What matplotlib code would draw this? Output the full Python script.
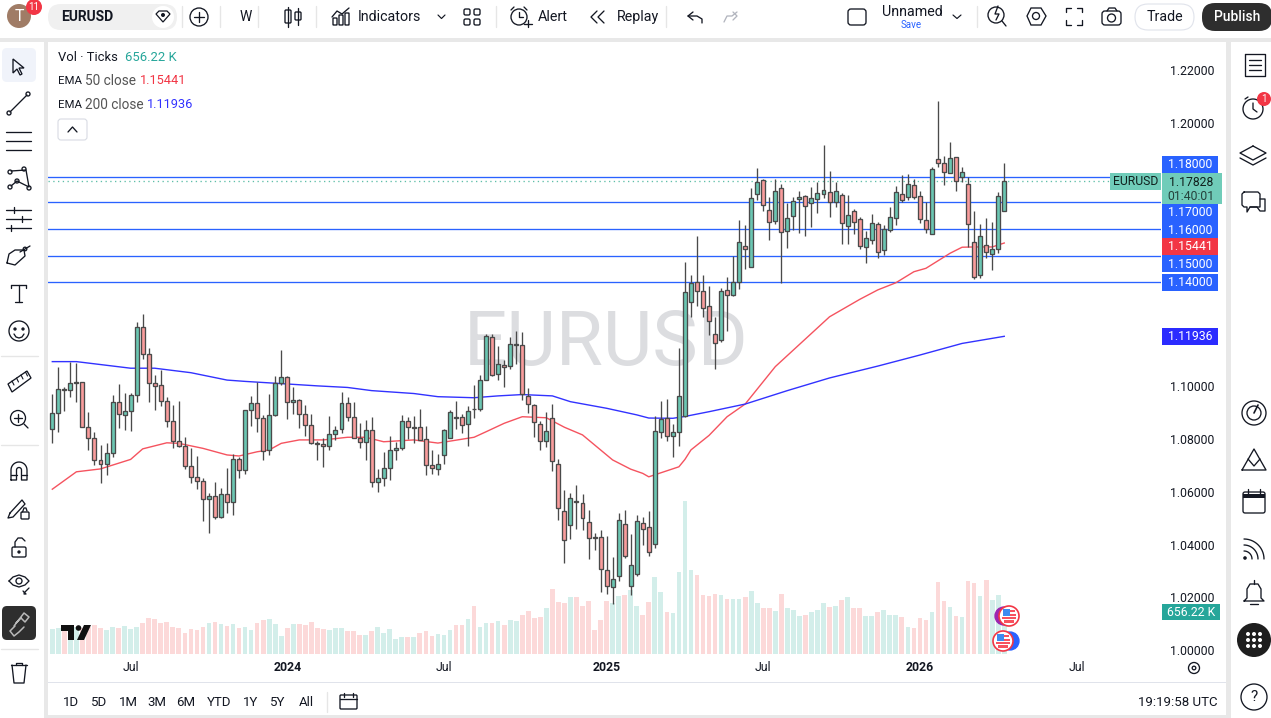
import math
import matplotlib
matplotlib.use("Agg")
import matplotlib.pyplot as plt
from matplotlib.patches import Rectangle, Circle, FancyBboxPatch, Polygon, Wedge

opens = [1.0837,1.0898,1.0989,1.0985,1.1014,1.1015,1.0845,1.0803,1.0720,1.0704,
1.0746,1.0940,1.0893,1.0905,1.0966,1.1224,1.1122,1.1012,1.1004,1.0943,
1.0867,1.0792,1.0773,1.0697,1.0655,1.0640,1.0572,1.0583,1.0503,1.0591,
1.0560,1.0723,1.0682,1.0909,1.0936,1.0879,1.0757,1.0890,1.1012,1.1034,
1.0940,1.0947,1.0894,1.0852,1.0785,1.0780,1.0773,1.0818,1.0837,1.0936,
1.0883,1.0803,1.0788,1.0833,1.0636,1.0651,1.0689,1.0757,1.0765,1.0867,
1.0844,1.0845,1.0799,1.0701,1.0685,1.0738,1.0803,1.0883,1.0883,1.0856,
1.0916,1.0913,1.1023,1.1186,1.1046,1.1080,1.1076,1.1158,1.1156,1.0962,
1.0928,1.0856,1.0792,1.0879,1.0704,1.0526,1.0473,1.0564,1.0556,1.0484,
1.0427,1.0427,1.0302,1.0238,1.0279,1.0477,1.0242,1.0287,1.0481,1.0465,
1.0401,1.0826,1.0879,1.0811,1.0826,1.0889,1.1319,1.1395,1.1361,1.1304,
1.1198,1.1175,1.1364,1.1345,1.1395,1.1531,1.1452,1.1729,1.1782,1.1668,
1.1626,1.1751,1.1588,1.1645,1.1710,1.1721,1.1694,1.1710,1.1729,1.1736,
1.1698,1.1725,1.1607,1.1664,1.1634,1.1527,1.1554,1.1615,1.1516,1.1592,
1.1638,1.1729,1.1717,1.1763,1.1721,1.1630,1.1577,1.1861,1.1846,1.1808,
1.1869,1.1793,1.1767,1.1546,1.1421,1.1535,1.1501,1.1520,1.1664]
closes = [1.0898,1.0989,1.0985,1.1012,1.1017,1.0845,1.0803,1.0720,1.0704,1.0746,
1.0940,1.0894,1.0905,1.0966,1.1224,1.1122,1.1012,1.1003,1.0943,1.0867,
1.0792,1.0773,1.0697,1.0655,1.0640,1.0572,1.0583,1.0503,1.0591,1.0560,
1.0723,1.0682,1.0909,1.0936,1.0879,1.0756,1.0890,1.1012,1.1034,1.0940,
1.0947,1.0894,1.0852,1.0784,1.0783,1.0773,1.0818,1.0836,1.0936,1.0883,
1.0803,1.0788,1.0833,1.0636,1.0651,1.0689,1.0757,1.0765,1.0867,1.0845,
1.0845,1.0798,1.0701,1.0689,1.0707,1.0833,1.0902,1.0881,1.0852,1.0905,
1.0913,1.1023,1.1190,1.1042,1.1084,1.1072,1.1160,1.1160,1.0970,1.0932,
1.0864,1.0792,1.0830,1.0716,1.0537,1.0416,1.0575,1.0563,1.0499,1.0424,
1.0425,1.0306,1.0242,1.0268,1.0492,1.0355,1.0321,1.0488,1.0458,1.0371,
1.0830,1.0875,1.0811,1.0826,1.0962,1.1357,1.1391,1.1361,1.1296,1.1247,
1.1163,1.1361,1.1345,1.1395,1.1546,1.1520,1.1713,1.1774,1.1687,1.1622,
1.1740,1.1584,1.1638,1.1702,1.1717,1.1683,1.1713,1.1732,1.1744,1.1698,
1.1740,1.1619,1.1649,1.1622,1.1531,1.1562,1.1619,1.1509,1.1596,1.1641,
1.1736,1.1706,1.1767,1.1717,1.1634,1.1596,1.1823,1.1846,1.1812,1.1865,
1.1778,1.1812,1.1615,1.1414,1.1569,1.1509,1.1520,1.1721,1.1778]
highs = [1.0971,1.1072,1.0996,1.1091,1.1087,1.1017,1.0903,1.0827,1.0778,1.0784,
1.0969,1.1009,1.0975,1.0974,1.1243,1.1275,1.1144,1.1043,1.1062,1.0961,
1.0928,1.0945,1.0807,1.0765,1.0736,1.0651,1.0597,1.0636,1.0613,1.0690,
1.0742,1.0733,1.0910,1.0964,1.1015,1.0891,1.0970,1.1039,1.1138,1.1039,
1.0998,1.0953,1.0928,1.0895,1.0793,1.0804,1.0886,1.0850,1.0977,1.0961,
1.0941,1.0860,1.0873,1.0883,1.0687,1.0750,1.0811,1.0789,1.0890,1.0883,
1.0888,1.0914,1.0848,1.0759,1.0742,1.0837,1.0909,1.0945,1.0895,1.0926,
1.1005,1.1042,1.1197,1.1197,1.1153,1.1100,1.1186,1.1210,1.1206,1.0993,
1.0933,1.0867,1.0902,1.0932,1.0723,1.0607,1.0594,1.0626,1.0591,1.0530,
1.0443,1.0454,1.0432,1.0352,1.0518,1.0531,1.0440,1.0512,1.0503,1.0527,
1.0888,1.0943,1.0951,1.0856,1.1144,1.1471,1.1421,1.1571,1.1421,1.1380,
1.1262,1.1372,1.1414,1.1495,1.1631,1.1611,1.1751,1.1827,1.1785,1.1718,
1.1785,1.1767,1.1694,1.1717,1.1740,1.1725,1.1755,1.1777,1.1914,1.1816,
1.1777,1.1732,1.1725,1.1672,1.1644,1.1588,1.1653,1.1622,1.1611,1.1679,
1.1759,1.1801,1.1804,1.1785,1.1740,1.1698,1.1831,1.2081,1.1873,1.1926,
1.1871,1.1831,1.1793,1.1664,1.1615,1.1638,1.1622,1.1736,1.1846]
lows = [1.0787,1.0828,1.0908,1.0961,1.0942,1.0845,1.0760,1.0701,1.0635,1.0664,
1.0733,1.0843,1.0836,1.0832,1.0942,1.1105,1.0942,1.0912,1.0927,1.0845,
1.0765,1.0771,1.0685,1.0632,1.0612,1.0488,1.0445,1.0496,1.0499,1.0521,
1.0513,1.0654,1.0666,1.0850,1.0827,1.0722,1.0740,1.0888,1.1005,1.0878,
1.0894,1.0843,1.0812,1.0780,1.0721,1.0695,1.0760,1.0795,1.0822,1.0870,
1.0803,1.0766,1.0721,1.0620,1.0599,1.0623,1.0645,1.0721,1.0759,1.0799,
1.0787,1.0797,1.0664,1.0668,1.0664,1.0706,1.0803,1.0837,1.0822,1.0775,
1.0881,1.0907,1.1023,1.1041,1.1024,1.0999,1.1066,1.1084,1.0948,1.0898,
1.0809,1.0759,1.0769,1.0680,1.0493,1.0331,1.0422,1.0460,1.0454,1.0344,
1.0379,1.0221,1.0211,1.0175,1.0263,1.0350,1.0209,1.0282,1.0398,1.0358,
1.0388,1.0805,1.0794,1.0733,1.0775,1.0885,1.1265,1.1306,1.1265,1.1196,
1.1065,1.1170,1.1209,1.1343,1.1371,1.1447,1.1452,1.1707,1.1664,1.1557,
1.1615,1.1391,1.1526,1.1592,1.1583,1.1572,1.1606,1.1659,1.1715,1.1644,
1.1682,1.1541,1.1541,1.1577,1.1522,1.1469,1.1541,1.1488,1.1500,1.1586,
1.1614,1.1700,1.1706,1.1712,1.1619,1.1583,1.1577,1.1834,1.1765,1.1808,
1.1743,1.1774,1.1527,1.1409,1.1412,1.1486,1.1443,1.1505,1.1664]
volumes_k = [390,406,427,427,416,401,417,453,406,375,422,406,437,390,422,484,562,547,484,500,
422,406,328,390,375,422,484,500,469,437,469,406,422,375,484,531,547,469,281,406,
469,469,453,500,406,390,375,406,406,359,359,297,297,359,422,328,390,234,266,266,
266,328,359,281,312,297,375,453,453,547,750,422,484,484,515,453,531,515,609,672,
562,578,719,1015,812,797,890,890,750,828,375,531,828,797,906,922,1000,750,609,812,
1203,968,656,640,1281,2390,1312,1234,922,906,937,922,859,859,859,890,984,797,719,719,
672,937,719,687,594,609,656,687,797,734,750,844,890,719,719,594,594,656,687,609,
609,578,422,406,562,531,656,1125,828,734,594,578,1140,1109,906,1156,844,922,656]

ema50_bar = [0,4,8,13,15,19,21,25,29,31,34,36,38,41,45,49,52,55,60,64,70,72,75,78,82,85,88,90,93,96,98,99,
             104,105,106,109,112,115,120,129,134,137,140,143,145,149,151,153,156,158]
ema50_val = [1.0610,1.0676,1.0687,1.0723,1.0763,1.0786,1.0784,1.0765,1.0740,1.0736,1.0752,1.0759,1.0784,1.0797,
             1.0797,1.0807,1.0807,1.0790,1.0797,1.0785,1.0807,1.0828,1.0860,1.0885,1.0881,1.0845,1.0816,1.0778,
             1.0721,1.0686,1.0670,1.0657,1.0695,1.0723,1.0759,1.0814,1.0885,1.0933,1.1075,1.1264,1.1330,1.1366,
             1.1393,1.1435,1.1448,1.1505,1.1528,1.1529,1.1529,1.1544]
ema200_bar = [0,4,13,17,23,29,32,37,44,49,53,60,64,70,74,78,83,86,92,97,99,103,105,109,115,122,129,137,144,151,158]
ema200_val = [1.1094,1.1094,1.1069,1.1069,1.1052,1.1024,1.1019,1.1012,1.1002,1.0996,1.0984,1.0973,1.0961,1.0957,
              1.0964,1.0969,1.0964,1.0942,1.0917,1.0892,1.0880,1.0879,1.0886,1.0904,1.0933,1.0984,1.1032,1.1077,
              1.1119,1.1163,1.1190]

level_vals = [1.1796,1.1699,1.1597,1.1496,1.1396]
level_labels = ['1.18000','1.17000','1.16000','1.15000','1.14000']
price_ticks = [1.00,1.02,1.04,1.06,1.08,1.10,1.20,1.22]
price_tick_labels = ['1.00000','1.02000','1.04000','1.06000','1.08000','1.10000','1.20000','1.22000']
time_ticks = [13,39,65,92,118,144,170]
time_labels = ['Jul','2024','Jul','2025','Jul','2026','Jul']

W, H = 1271, 718
FONT = 'Roboto'
plt.rcParams['font.family'] = [FONT, 'DejaVu Sans']
DARK = '#131722'
BLUE, RED, TEAL = '#2962ff', '#f23645', '#70ccb9'
fig = plt.figure(figsize=(W/100, H/100), dpi=100, facecolor='#e8e8e8')

def pos(x0, y0, x1, y1):
    return [x0/W, 1-y1/H, (x1-x0)/W, (y1-y0)/H]

rect = pos(48, 42, 1161, 682)
volax = fig.add_axes(rect, zorder=1, facecolor='white')
ax = fig.add_axes(rect, zorder=2)
ax.patch.set_visible(False)
xlim = ((48-52.3)/6.025, (1161-52.3)/6.025)
for a in (ax, volax):
    a.set_xlim(*xlim)
    for s in a.spines.values():
        s.set_visible(False)
ax.set_ylim(1+(650-682)/2636, 1+(650-42)/2636)
volax.set_ylim(-(682-654)*15.62, (654-42)*15.62)
volax.set_xticks([]); volax.set_yticks([])

idx = list(range(len(closes)))
ups = [c >= o for o, c in zip(opens, closes)]
volax.bar(idx, volumes_k, width=0.78, color=['#d3eeea' if u else '#fcd9d9' for u in ups], linewidth=0)
ax.text((606-48)/1113, 1-(345-42)/640, 'EURUSD', transform=ax.transAxes, ha='center', va='center',
        fontsize=55, color='#dcdde0', fontfamily='Roboto', zorder=0)
for v, x_end in zip(level_vals, [1110, 1161, 1161, 1161, 1161]):
    ax.plot([xlim[0], (x_end-52.3)/6.025], [v, v], color=BLUE, lw=0.95, zorder=1)
ax.plot(ema50_bar, ema50_val, color='#f5535f', lw=1.0, zorder=2)
ax.plot(ema200_bar, ema200_val, color='#3232ff', lw=1.0, zorder=2)
ax.plot([xlim[0], (1110-52.3)/6.025], [closes[-1]]*2, color='#5fbfa9', lw=0.95, ls=(0, (1, 2.6)), zorder=2)
ax.vlines(idx, lows, highs, color='#4a4a4a', lw=0.95, zorder=3)
ax.bar(idx, [c-o for o, c in zip(opens, closes)], bottom=opens, width=0.66,
       color=['#6bc6b2' if u else '#f99c9c' for u in ups], edgecolor='#4a4a4a', linewidth=0.95, zorder=4)
ax.yaxis.tick_right()
ax.set_yticks(price_ticks)
ax.set_yticklabels(price_tick_labels, fontsize=8.8, color=DARK)
ax.tick_params(axis='y', length=0, pad=6.5)
ax.set_xticks(time_ticks)
ax.set_xticklabels(time_labels, fontsize=8.8, color=DARK)
ax.tick_params(axis='x', length=0, direction='in', pad=-15.2)
for lab, t in zip(ax.get_xticklabels(), time_labels):
    if t != 'Jul':
        lab.set_fontweight('bold')

# interface overlay, in screen pixels
ui = fig.add_axes([0, 0, 1, 1], zorder=5)
ui.set_xlim(0, W); ui.set_ylim(H, 0); ui.axis('off')

def box(x0, y0, x1, y1, c='white', **k):
    ui.add_patch(Rectangle((x0, y0), x1-x0, y1-y0, fc=c, ec='none', **k))
def rbox(x0, y0, x1, y1, fc='white', ec='none', r=4, lw=0.8):
    ui.add_patch(FancyBboxPatch((x0+r, y0+r), x1-x0-2*r, y1-y0-2*r, boxstyle=f'round,pad={r},rounding_size={r}',
                                fc=fc, ec=ec, lw=lw, mutation_aspect=1))
def txt(x, y, s, size=10.3, c=DARK, ha='left', w='normal', **k):
    ui.text(x, y+0.8, s, fontsize=size, color=c, ha=ha, va='center', fontweight=w, fontfamily=FONT, **k)
def ln(xs, ys, c=DARK, lw=0.95, **k):
    ui.plot(xs, ys, color=c, lw=lw, solid_capstyle='round', solid_joinstyle='round', **k)
def circ(x, y, r, fc='none', ec=DARK, lw=0.95):
    ui.add_patch(Circle((x, y), r, fc=fc, ec=ec, lw=lw))
def sq(x0, y0, x1, y1, fc='none', ec=DARK, r=2):
    rbox(x0, y0, x1, y1, fc=fc, ec=ec, r=r, lw=0.95)
def arc_pts(cx, cy, r, a0, a1, n=14):
    return ([cx + r*math.cos(math.radians(a0+(a1-a0)*i/n)) for i in range(n+1)],
            [cy - r*math.sin(math.radians(a0+(a1-a0)*i/n)) for i in range(n+1)])

box(0, 0, W, 38)
box(0, 42, 44, 718)
box(1231, 42, W, 718)
box(48, 683, 1226, 715)
box(48, 682, 1226, 683, '#e0e3eb')
price_bg = fig.add_axes(pos(1161, 42, 1226, 682), zorder=0, facecolor='white')
price_bg.set_xticks([]); price_bg.set_yticks([])
for s in price_bg.spines.values():
    s.set_visible(False)

# top bar
circ(19, 16, 12, fc='#a07c66', ec='none')
txt(19, 16, 'T', 11.5, 'white', ha='center')
circ(34, 7, 8, fc=RED, ec='none')
txt(34, 6.5, '11', 7, 'white', ha='center')
rbox(48, 4, 177, 30, fc='#f0f0f0', r=13)
txt(61, 16, 'EURUSD', 10, DARK, w='bold')
circ(163, 17, 11, fc='white', ec='none')
ui.add_patch(Polygon([[156, 14], [159, 11], [167, 11], [170, 14], [163, 22]], fc='none', ec=DARK, lw=0.9))
circ(163, 15, 2, fc=DARK, ec='none')
circ(199, 17, 9)
ln([194, 204], [17, 17]); ln([199, 199], [12, 22])
for x in [182, 220, 258]:
    ln([x, x], [6, 27], '#e6e6e6')
txt(246, 16, 'W', 10, DARK, ha='center')
sq(285, 10, 291, 23, r=1); ln([288, 288], [7, 27])
sq(295, 12, 301, 20, r=1); ln([298, 298], [8, 25])
ln([316, 316], [6, 27], '#e6e6e6')
ln([332, 337, 342, 349], [17, 11, 14, 8]); sq(333, 18, 337, 25, r=0.5); sq(339, 15, 343, 25, r=0.5); sq(345, 13, 349, 25, r=0.5)
txt(358, 16, 'Indicators')
ln([438, 441.5, 445], [15, 18.5, 15], lw=0.85)
for xx, yy in [(465, 10), (475, 10), (465, 20), (475, 20)]:
    sq(xx-1, yy-1, xx+5, yy+5, r=1.5)
ln([496, 496], [6, 27], '#e6e6e6')
circ(519, 17, 8); ln([519, 519, 523], [12, 17, 17]); ln([511, 514], [10, 7]); ln([524, 527], [7, 10])
ln([528, 528], [20, 27]); ln([524, 532], [24, 24])
txt(538, 16, 'Alert')
for dx in (0, 7):
    ln([597+dx, 591+dx, 597+dx], [11, 17, 23])
txt(617, 16, 'Replay')
ln([666, 666], [6, 27], '#e6e6e6')
ln([693, 688, 693], [12, 16, 20]); ln([688, 697, 702, 702], [16, 16, 19, 23])
ln([737, 732, 727, 724], [12, 16, 16, 22], '#b2b5be'); ln([733, 737, 733], [12, 16, 20], '#b2b5be')
sq(848, 9, 866, 25, r=3)
txt(882, 11.5, 'Unnamed')
txt(911, 24, 'Save', 7, BLUE, ha='center')
ln([953, 957, 961], [15, 18.5, 15], lw=0.85)
ln([977, 977], [6, 27], '#e6e6e6')
circ(996, 15, 8); ln([1002, 1006], [21, 26]); ln([998, 995, 999, 996], [6, 14, 14, 20])
ui.add_patch(Polygon([[1027, 16], [1031, 8], [1041, 8], [1046, 16], [1041, 25], [1031, 25]], fc='none', ec=DARK, lw=0.95))
circ(1036, 16, 3.5)
for a_, b_ in [((1066, 1066, 1071), (12, 8, 8)), ((1077, 1082, 1082), (8, 8, 12)),
               ((1066, 1066, 1071), (20, 25, 25)), ((1077, 1082, 1082), (25, 25, 20))]:
    ln(a_, b_)
sq(1102, 11, 1121, 25, r=3); circ(1111.5, 18, 4); ln([1107, 1109, 1115, 1117], [11, 8, 8, 11])
rbox(1135, 4, 1194, 30, fc='white', ec='#e0e3eb', r=13)
txt(1165, 16, 'Trade', ha='center')
rbox(1202, 3, 1272, 31, fc='#2e2e2e', r=13)
txt(1237, 16, 'Publish', 10, 'white', ha='center', w='medium')

# legend
txt(58, 56.5, 'Vol · Ticks', 9.4)
txt(125, 56.5, '656.22 K', 9.4, '#26a69a')
txt(58, 80, 'EMA', 8.2); txt(85, 80, '50 close', 9.8, '#555555'); txt(140, 80, '1.15441', 9.2, RED)
txt(58, 104, 'EMA', 8.2); txt(85, 104, '200 close', 9.8, '#555555'); txt(147, 104, '1.11936', 9.2, '#3232ff')
rbox(58, 119, 87, 140, fc='white', ec='#d8dbe3', r=3)
ln([68, 72.5, 77], [132, 127, 132], lw=0.95)

# price boxes
for v_lab, y0, y1 in zip(level_labels, [156, 204, 221, 255, 274], [173, 221, 238, 272, 291]):
    box(1162, y0, 1218, y1, BLUE)
    txt(1190, (y0+y1)/2-0.3, v_lab, 8.8, 'white', ha='center')
box(1162, 238, 1218, 255, RED); txt(1190, 246.2, '1.15441', 8.8, 'white', ha='center')
box(1162, 328, 1218, 345, '#2b2bff'); txt(1190, 336.2, '1.11936', 8.8, 'white', ha='center')
box(1162, 173, 1222, 204, TEAL)
txt(1191, 181.5, '1.17828', 8.8, '#10201d', ha='center')
txt(1191, 195.5, '01:40:01', 8.8, '#25423c', ha='center')
box(1110, 173, 1161, 190, TEAL); txt(1135.5, 181, 'EURUSD', 8.8, '#10201d', ha='center')
box(1162, 604, 1220, 620, '#26a69a'); txt(1191, 611.5, '656.22 K', 8.8, 'white', ha='center')

# time axis and range bar
for x, s in zip([71, 99, 128, 157, 186, 219, 251, 278, 306], ['1D', '5D', '1M', '3M', '6M', 'YTD', '1Y', '5Y', 'All']):
    txt(x, 701.5, s, 9.5, ha='center')
ln([327, 327], [692, 712], '#e6e6e6')
sq(340, 695, 357, 709, r=1); ln([340, 357], [698.5, 698.5]); ln([344, 344], [693, 697]); ln([353, 353], [693, 697])
txt(1217, 701.5, '19:19:58 UTC', 9.5, ha='right')
circ(1194, 668, 5.5); circ(1194, 668, 1.8)

# TradingView mark
ui.add_patch(Polygon([[61, 625], [74, 625], [74, 640], [68, 640], [68, 631], [61, 631]], fc='#111111', ec='none'))
circ(78.5, 628, 2.8, fc='#111111', ec='none')
ui.add_patch(Polygon([[84, 625], [91, 625], [84, 640], [77, 640]], fc='#111111', ec='none'))

# event flags
for cx, cy, other, colr in [(1009, 616, -5, '#9c27b0'), (1003, 641, 7, '#2962ff')]:
    circ(cx+other, cy, 9, fc=colr, ec=colr)
    circ(cx, cy, 10, fc='white', ec='#f23645', lw=1.2)
    box(cx-7, cy+0.5, cx+7, cy+2.5, '#f7525f')
    box(cx-5, cy+4, cx+5, cy+6.5, '#f7525f')
    box(cx-6.5, cy-7, cx+1, cy, '#3d8bf0')
    box(cx+1, cy-6, cx+5.5, cy-4, '#f7525f')
    box(cx+1, cy-2.5, cx+7, cy-0.5, '#f7525f')

# left toolbar
rbox(2, 48, 36, 82, fc='#f0f3fa', r=5)
ui.add_patch(Polygon([[13, 59], [13, 73], [17, 69], [20, 75], [22, 74], [19, 68], [24, 68]], fc='none', ec=DARK, lw=0.95))
ln([10, 27], [112, 95]); circ(9, 113, 2, fc='white'); circ(28, 94, 2, fc='white')
for y in (132, 141, 150):
    ln([6, 31], [y, y])
ln([11, 26, 29, 17, 11], [171, 170, 187, 181, 186])
for xx, yy in [(10, 172), (17, 181), (24, 169), (29, 188), (10, 187)]:
    circ(xx, yy, 2, fc='white')
for y in (210, 219, 228):
    ln([6, 31], [y, y])
ln([14, 14], [207, 213]); ln([22, 22], [216, 222]); ln([11, 11], [225, 231])
ln([7, 9, 15, 24, 25, 15, 7], [263, 254, 250, 250, 256, 265, 263]); ln([20, 30], [252, 246]); circ(25, 249, 1.8, fc='white')
ln([11, 26], [285, 285]); ln([18.5, 18.5], [285, 302]); ln([15, 22], [302, 302]); ln([11, 11], [285, 288]); ln([26, 26], [285, 288])
circ(19, 331, 10); circ(15, 329, 1, fc=DARK); circ(23, 329, 1, fc=DARK); ln([14, 16, 19, 22, 24], [334, 337, 338, 337, 334])
ln([1, 38], [356, 356], '#e6e6e6')
ui.add_patch(Polygon([[8, 384], [27, 371], [31, 378], [12, 392]], fc='none', ec=DARK, lw=0.95))
for t in range(4):
    ln([12+4.5*t, 14+4.5*t], [381-3*t, 385-3*t], lw=0.8)
circ(18, 418, 7.5); ln([24, 28], [424, 428]); ln([14, 22], [418, 418]); ln([18, 18], [414, 422])
ln([1, 38], [445, 445], '#e6e6e6')
ox, oy = arc_pts(19, 470, 8, 180, 0)
ix, iy = arc_pts(19, 470, 2.5, 0, 180)
ln([11]+ox+[27, 21.5]+ix+[16.5, 11], [480]+oy+[480, 480]+iy+[480, 480])
ln([11, 16.5], [475, 475]); ln([21.5, 27], [475, 475])
ln([10, 22, 25, 13, 8, 10], [513, 500, 504, 517, 518, 513])
sq(21, 512, 29, 519, r=1); ln([22.5, 24, 26, 27], [512, 508, 508, 511])
sq(12, 547, 26, 557, r=1.5); ln([15, 15, 18, 22, 25], [547, 542, 538, 538, 541]); circ(19, 552, 1, fc=DARK)
ln([9, 13, 19, 25, 29, 25, 19, 13, 9], [581, 577, 575, 577, 581, 585, 587, 585, 581]); circ(19, 581, 3)
ln([24, 29], [593, 588]); ln([23, 26, 24], [591, 594, 594])
rbox(2, 606, 36, 640, fc='#2e2e2e', r=5)
ln([15, 10, 14, 19, 24], [626, 631, 636, 632, 627], '#b9b9b9', lw=1.1)
ln([14, 24, 29, 25, 21, 16], [626, 613, 617, 622, 618, 623], '#b9b9b9', lw=1.1)
ln([1, 38], [649, 649], '#e6e6e6')
ln([11, 27], [665, 665]); ln([12, 14, 24, 26], [665, 683, 683, 665]); ln([16, 16, 22, 22], [665, 663, 663, 665])

# right toolbar
ln([1245, 1265, 1265, 1245, 1245], [54, 54, 76, 76, 54])
for y in (60, 65, 70):
    ln([1249, 1261], [y, y])
circ(1253, 109, 10); ln([1253, 1253, 1257], [103, 109, 112]); ln([1245, 1248], [99, 97])
circ(1264, 99, 7, fc=RED, ec='none'); txt(1264, 98.5, '1', 7, 'white', ha='center')
ln([1253, 1266, 1253, 1240, 1253], [146, 153, 160, 153, 146]); ln([1240, 1253, 1266], [158, 165, 158])
ln([1244, 1258, 1260, 1260, 1250, 1247, 1247, 1244, 1242, 1242, 1244], [192, 192, 194, 207, 207, 212, 207, 207, 205, 194, 192])
ln([1260, 1265, 1265, 1260, 1257, 1250], [199, 199, 211, 211, 207, 207])
circ(1254, 413, 12); circ(1254, 413, 7); ln([1254, 1258], [413, 405], lw=1.2)
ln([1242, 1254, 1266, 1242], [470, 449, 470, 470]); ln([1248, 1254, 1260], [459, 466, 459])
sq(1243, 492, 1265, 513, r=2); box(1243, 494, 1265, 498, DARK); ln([1248, 1248], [489, 494]); ln([1260, 1260], [489, 494])
circ(1245, 558, 1.8, fc=DARK, ec='none')
for r_ in (8, 14, 20):
    ax_, ay_ = arc_pts(1244, 559, r_, 0, 90)
    ln(ax_, ay_)
ln([1244, 1247, 1247, 1250, 1258, 1261, 1261, 1264, 1244], [601, 598, 589, 584, 584, 589, 598, 601, 601])
ln([1250, 1258], [604, 604]); ln([1254, 1254], [580, 584])
circ(1254, 640, 17, fc='#1e1e1e', ec='none')
for xx, yy in [(1248, 634), (1254, 634), (1260, 634), (1248, 640), (1254, 640), (1260, 640), (1248, 646), (1254, 646), (1260, 646)]:
    circ(xx, yy, 2, fc='white', ec='none')
circ(1254, 697, 13)
txt(1254, 696.5, '?', 11, ha='center')

fig.savefig('out.png', dpi=100, facecolor=fig.get_facecolor())
